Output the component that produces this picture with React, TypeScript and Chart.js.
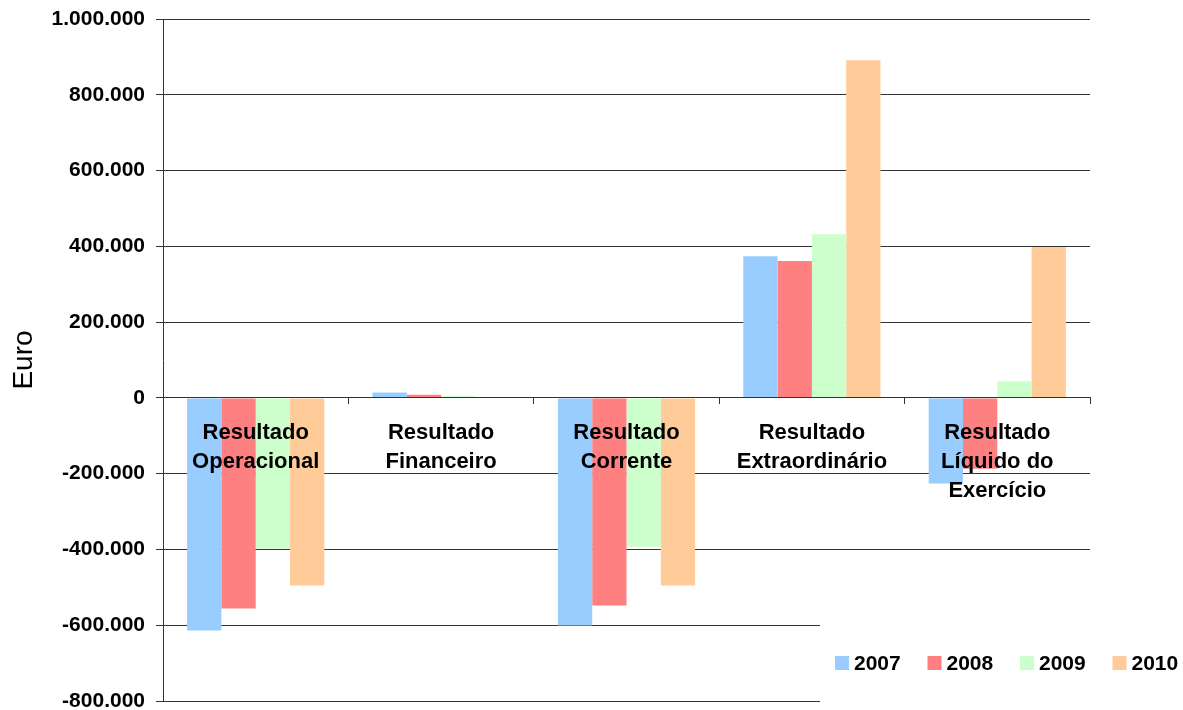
import React, { useEffect, useRef } from 'react';
import { Chart, registerables } from 'chart.js';

Chart.register(...registerables);

const categories: string[][] = [
  ['Resultado', 'Operacional'],
  ['Resultado', 'Financeiro'],
  ['Resultado', 'Corrente'],
  ['Resultado', 'Extraordinário'],
  ['Resultado', 'Líquido do', 'Exercício'],
];
const years = ['2007', '2008', '2009', '2010'];
const colors = ['#99CCFF', '#FF8080', '#CCFFCC', '#FFCC99'];
const v2007 = [-614000, 14000, -601000, 374000, -226000];
const v2008 = [-556000, 8000, -548000, 361000, -187000];
const v2009 = [-398000, 5000, -393000, 432000, 44000];
const v2010 = [-495000, 2000, -495000, 891000, 398000];
const series = [v2007, v2008, v2009, v2010];
const yMin = -800000;
const yMax = 1000000;
const yStep = 200000;
const yTitle = 'Euro';

const FONT = '"Liberation Sans", Arial, sans-serif';

const fmt = (v: number) => {
  const s = Math.abs(Math.round(v)).toString().replace(/\B(?=(\d{3})+(?!\d))/g, '.');
  return (v < 0 ? '-' : '') + s;
};

const cornerLegend = {
  id: 'cornerLegend',
  afterDraw(chart: any) {
    const ctx = chart.ctx;
    ctx.save();
    ctx.fillStyle = '#ffffff';
    ctx.fillRect(820, 612, 363, 98);
    ctx.font = `bold 21px ${FONT}`;
    ctx.textBaseline = 'middle';
    ctx.textAlign = 'left';
    const startX = 835;
    const stepX = 92.5;
    const cy = 663;
    chart.data.datasets.forEach((ds: any, i: number) => {
      const x = startX + i * stepX;
      ctx.fillStyle = ds.backgroundColor;
      ctx.fillRect(x, cy - 7, 14, 14);
      ctx.fillStyle = '#000';
      ctx.fillText(ds.label, x + 19, cy + 1);
    });
    ctx.restore();
  },
};

export default function App() {
  const ref = useRef<HTMLCanvasElement>(null);
  useEffect(() => {
    if (!ref.current) return;
    const chart = new Chart(ref.current, {
      type: 'bar',
      data: {
        labels: categories,
        datasets: years.map((y, i) => ({
          label: y,
          data: series[i],
          backgroundColor: colors[i],
          borderWidth: 0,
          categoryPercentage: 0.74,
          barPercentage: 1.0,
        })),
      },
      options: {
        animation: false,
        responsive: false,
        maintainAspectRatio: false,
        layout: { padding: { left: 0, right: 93, top: 19, bottom: 9 } },
        plugins: {
          legend: { display: false },
          tooltip: { enabled: false },
        },
        scales: {
          x: {
            position: { y: 0 },
            offset: true,
            grid: {
              offset: true,
              drawOnChartArea: false,
              drawTicks: true,
              tickLength: 6,
              color: '#333',
              z: 1,
            },
            border: { display: true, color: '#333', width: 1, z: 1 },
            ticks: {
              z: 2,
              color: '#000',
              padding: 15,
              maxRotation: 0,
              autoSkip: false,
              font: { family: FONT, size: 22, weight: 'bold', lineHeight: '29px' },
            },
            afterFit(scale: any) {
              scale.paddingLeft = 0;
              scale.paddingRight = 0;
            },
          },
          y: {
            min: yMin,
            max: yMax,
            grid: { color: '#333', tickLength: 7, lineWidth: 1 },
            border: { display: true, color: '#333', width: 1 },
            ticks: {
              stepSize: yStep,
              color: '#000',
              padding: 11,
              font: { family: FONT, size: 21, weight: 'bold' },
              callback: (v: any) => fmt(Number(v)),
            },
            title: {
              display: true,
              text: yTitle,
              color: '#000',
              padding: { top: 7, bottom: 0 },
              font: { family: FONT, size: 28, weight: 'normal' },
            },
            afterFit(scale: any) {
              scale.width = 163;
              scale.paddingTop = 0;
              scale.paddingBottom = 0;
            },
          },
        },
      },
      plugins: [cornerLegend],
    } as any);
    return () => chart.destroy();
  }, []);
  return (
    <div style={{ position: 'fixed', left: 0, top: 0, width: 1183, height: 710, background: '#fff' }}>
      <canvas ref={ref} width={1183} height={710} style={{ width: 1183, height: 710, display: 'block' }} />
    </div>
  );
}
